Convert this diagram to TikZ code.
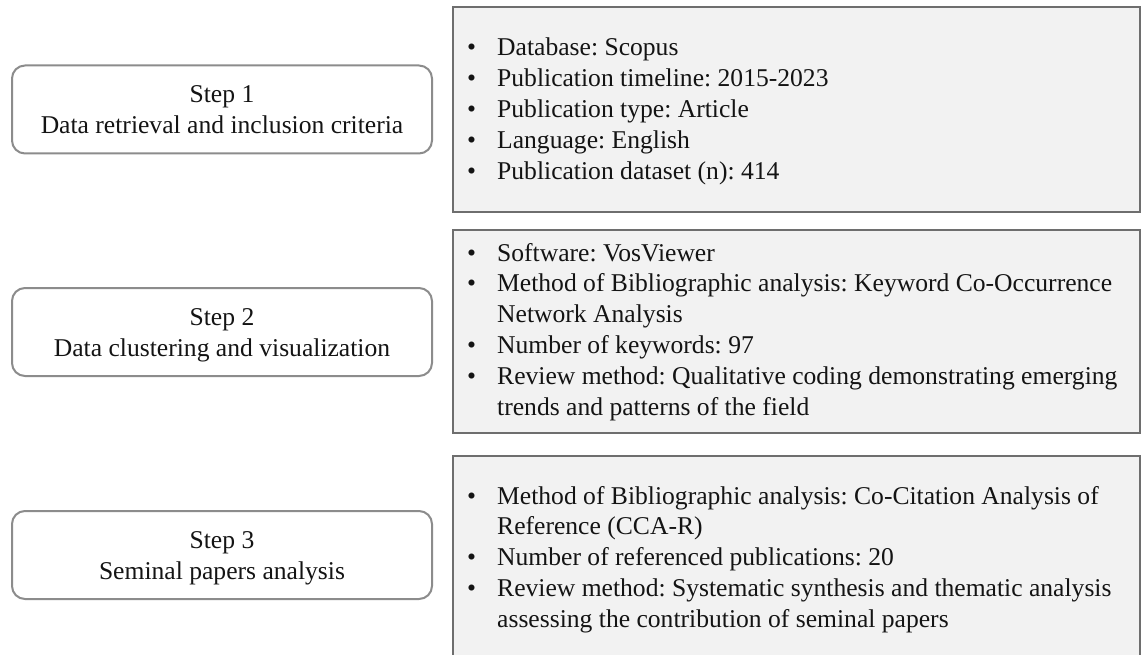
\documentclass[tikz,border=0pt]{standalone}
\usepackage{fontspec}
\setmainfont{Liberation Serif}
\frenchspacing
\definecolor{panelfill}{HTML}{F2F2F2}
\definecolor{panelline}{HTML}{6E6E6E}
\definecolor{stepline}{HTML}{8C8C8C}
\definecolor{ink}{HTML}{141414}
% one bulleted entry; continuation lines hang under the text
\newcommand\bitem[1]{\par\hangindent=30pt\hangafter=1\noindent\makebox[30pt][l]{\textbullet}#1}
\newcommand\bodysize{\fontsize{25.6pt}{30.8pt}\selectfont}
\begin{document}
\begin{tikzpicture}[x=1pt,y=-1pt,
  stepbox/.style={draw=stepline, line width=2pt, rounded corners=13pt, fill=white,
    minimum width=420pt, minimum height=88pt, inner sep=0pt},
  panel/.style={draw=panelline, line width=2.5pt, fill=panelfill},
  listtext/.style={anchor=base west, inner sep=0pt, text=ink},
  steptext/.style={anchor=base, inner sep=0pt, text=ink}]
\useasboundingbox (0,0) rectangle (1147,655);
\fill[white] (0,0) rectangle (1147,655);

% left column: the three steps
\node[stepbox] (s1) at (222,109.5) {};
\node[stepbox] (s2) at (222,332) {};
\node[stepbox] (s3) at (222,555) {};
\node[steptext] (t1) at (222,103)
  {\parbox[t]{400pt}{\bodysize\centering Step 1\\Data retrieval and inclusion criteria}};
\node[steptext] (t2) at (222,325.5)
  {\parbox[t]{400pt}{\bodysize\centering Step 2\\Data clustering and visualization}};
\node[steptext] (t3) at (222,548.5)
  {\parbox[t]{400pt}{\bodysize\centering Step 3\\Seminal papers analysis}};

% right column: details of each step
\draw[panel] (453,7) rectangle (1140,212);
\draw[panel] (453,230) rectangle (1140,433);
\draw[panel] (453,456) rectangle (1140,662);

\node[listtext] (d1) at (467,56) {\parbox[t]{660pt}{\bodysize\raggedright
  \bitem{Database: Scopus}
  \bitem{Publication timeline: 2015-2023}
  \bitem{Publication type: Article}
  \bitem{Language: English}
  \bitem{Publication dataset (n): 414}}};
\node[listtext] (d2) at (467,261) {\parbox[t]{660pt}{\bodysize\raggedright
  \bitem{Software: VosViewer}
  \bitem{Method of Bibliographic analysis: Keyword Co-Occurrence\newline Network Analysis}
  \bitem{Number of keywords: 97}
  \bitem{Review method: Qualitative coding demonstrating emerging\newline trends and patterns of the field}}};
\node[listtext] (d3) at (467,504) {\parbox[t]{660pt}{\bodysize\raggedright
  \bitem{Method of Bibliographic analysis: Co-Citation Analysis of\newline Reference (CCA-R)}
  \bitem{Number of referenced publications: 20}
  \bitem{Review method: Systematic synthesis and thematic analysis\newline assessing the contribution of seminal papers}}};
\end{tikzpicture}
\end{document}
